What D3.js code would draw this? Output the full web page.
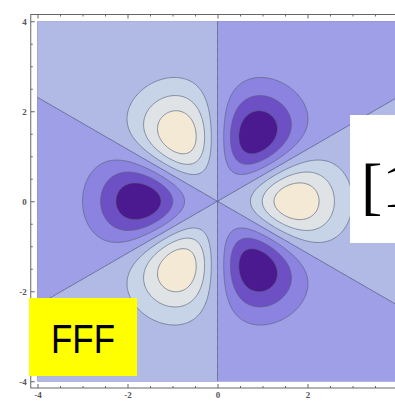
<!DOCTYPE html>
<html>
<head>
<meta charset="utf-8">
<script src="https://cdn.jsdelivr.net/npm/d3@7"></script>
<style>
  html, body { margin: 0; padding: 0; background: #fff; overflow: hidden; }
  svg { display: block; }
</style>
</head>
<body>
<svg id="chart" width="395" height="401"></svg>
<script>
// contour levels of the plotted field and the fill of each band (lowest first)
const contourLevels = [-0.9, -0.6, -0.3, 0, 0.3, 0.6, 0.9];
const bandColors = ["#4b1a91", "#6e50c5", "#8c83e1", "#9e9fe6", "#b1b9e5", "#c7d4e7", "#dfe3e5", "#f4e9d5"];

const majorTicks = [-4, -2, 0, 2, 4];
const minorTicks = [-3.5, -3, -2.5, -1.5, -1, -0.5, 0.5, 1, 1.5, 2.5, 3, 3.5];
const plotRange = [-4, 4];
const frameRange = [-4.15, 4.15];

// f-type orbital cross-section: (x^3 - 3xy^2) e^{-(x^2+y^2)/2}
function orbital(x, y) {
  return (x * x * x - 3 * x * y * y) * Math.exp(-(x * x + y * y) / 2);
}

const svg = d3.select('#chart');

const x = d3.scaleLinear().domain(frameRange).range([30.75, 404.25]);
const y = d3.scaleLinear().domain(frameRange).range([388, 14.5]);

// sample grid a little wider than the plot so border edges fall outside the clip
const ext = 4.1;
const n = 328;
const step = (2 * ext) / n;
const values = new Array(n * n);
for (let j = 0; j < n; j++) {
  for (let i = 0; i < n; i++) {
    values[j * n + i] = orbital(-ext + (i + 0.5) * step, ext - (j + 0.5) * step);
  }
}

const contours = d3.contours().size([n, n]).thresholds(contourLevels)(values);

const path = d3.geoPath(d3.geoTransform({
  point: function(px, py) {
    this.stream.point(x(-ext + px * step), y(ext - py * step));
  }
}));

svg.append('clipPath').attr('id', 'plot-clip')
  .append('rect')
  .attr('x', x(plotRange[0]))
  .attr('y', y(plotRange[1]))
  .attr('width', x(plotRange[1]) - x(plotRange[0]))
  .attr('height', y(plotRange[0]) - y(plotRange[1]));

const plot = svg.append('g').attr('clip-path', 'url(#plot-clip)');

// lowest band as background
plot.append('rect')
  .attr('x', x(plotRange[0]))
  .attr('y', y(plotRange[1]))
  .attr('width', x(plotRange[1]) - x(plotRange[0]))
  .attr('height', y(plotRange[0]) - y(plotRange[1]))
  .style('fill', bandColors[0]);

plot.selectAll('path.band')
  .data(contours)
  .enter()
  .append('path')
  .attr('class', 'band')
  .attr('d', path)
  .style('fill', (d, i) => bandColors[i + 1])
  .style('stroke', (d) => d.value === 0 ? '#4a5478' : '#5a6480')
  .style('stroke-opacity', 0.75)
  .style('stroke-width', '0.9px')
  .style('stroke-linejoin', 'round');

// frame
svg.append('rect')
  .attr('x', x(frameRange[0]))
  .attr('y', y(frameRange[1]))
  .attr('width', x(frameRange[1]) - x(frameRange[0]))
  .attr('height', y(frameRange[0]) - y(frameRange[1]))
  .style('fill', 'none')
  .style('stroke', '#666')
  .style('stroke-width', '1px');

const fmt = d => String(d);

function frameAxis(axisFn, scale, transform, ticks, size, labels) {
  const a = axisFn(scale).tickValues(ticks).tickSize(size).tickPadding(4)
    .tickFormat(labels ? fmt : () => '');
  const g = svg.append('g').attr('transform', transform).call(a);
  g.select('.domain').remove();
  g.selectAll('.tick line').style('stroke', '#666');
  g.selectAll('.tick text')
    .style('font-family', '"Liberation Serif", serif')
    .style('font-size', '9px')
    .style('font-weight', 'bold')
    .style('fill', '#555');
  return g;
}

const bottomY = y(frameRange[0]);
const topY = y(frameRange[1]);
const leftX = x(frameRange[0]);
const rightX = x(frameRange[1]);

frameAxis(d3.axisBottom, x, `translate(0,${bottomY})`, majorTicks, -4, true);
frameAxis(d3.axisBottom, x, `translate(0,${bottomY})`, minorTicks, -2, false);
frameAxis(d3.axisTop, x, `translate(0,${topY})`, majorTicks, -4, false);
frameAxis(d3.axisTop, x, `translate(0,${topY})`, minorTicks, -2, false);
frameAxis(d3.axisLeft, y, `translate(${leftX},0)`, majorTicks, -4, true);
frameAxis(d3.axisLeft, y, `translate(${leftX},0)`, minorTicks, -2, false);
frameAxis(d3.axisRight, y, `translate(${rightX},0)`, majorTicks, -4, false);
frameAxis(d3.axisRight, y, `translate(${rightX},0)`, minorTicks, -2, false);

// overlay labels pasted on top of the plot
svg.append('rect')
  .attr('x', 29).attr('y', 298).attr('width', 108).attr('height', 78)
  .style('fill', '#ffff00');
svg.append('text')
  .attr('x', 51).attr('y', 353)
  .attr('textLength', 64)
  .attr('lengthAdjust', 'spacingAndGlyphs')
  .style('font-family', '"Liberation Sans", Arial, sans-serif')
  .style('font-size', '40px')
  .style('fill', '#000')
  .text('FFF');

svg.append('rect')
  .attr('x', 350).attr('y', 115).attr('width', 50).attr('height', 128)
  .style('fill', '#fff');
svg.append('text')
  .attr('x', 361).attr('y', 207)
  .style('font-family', '"Liberation Serif", serif')
  .style('font-size', '64px')
  .style('fill', '#000')
  .text('[1');
</script>
</body>
</html>
